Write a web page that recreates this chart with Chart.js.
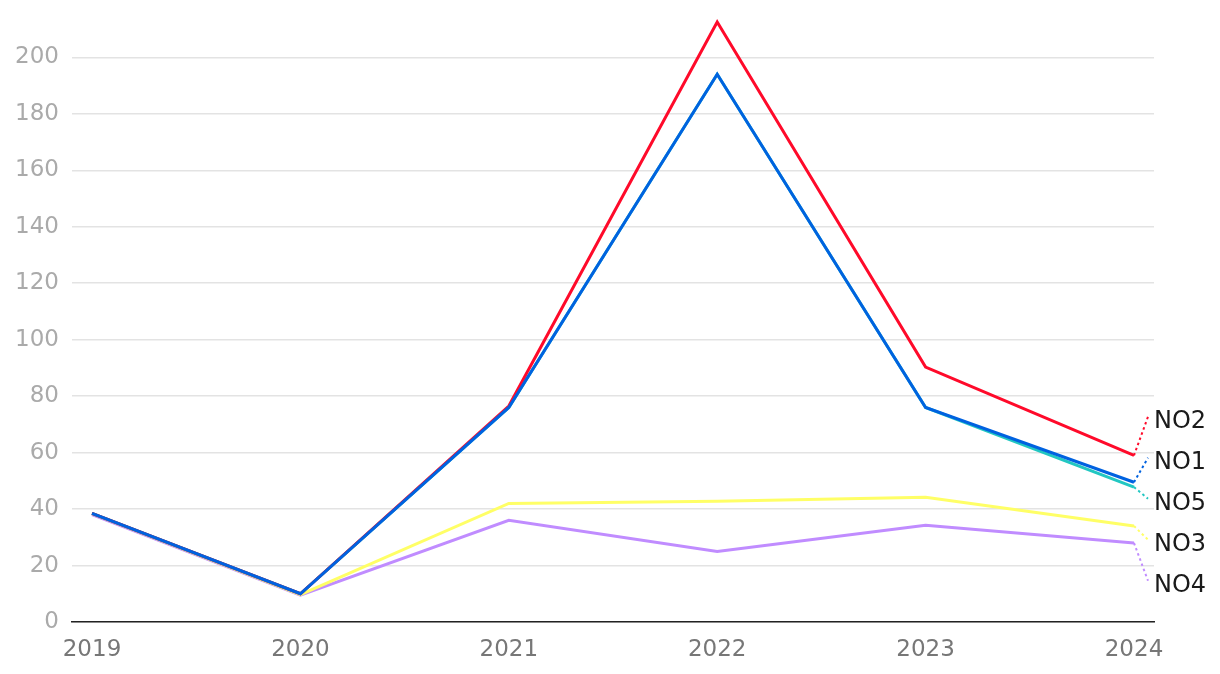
<!DOCTYPE html>
<html>
<head>
<meta charset="utf-8">
<style>
  html, body { margin: 0; padding: 0; background: #fff; }
  #wrap { width: 1220px; height: 674px; }
</style>
<script src="https://cdn.jsdelivr.net/npm/chart.js@4"></script>
</head>
<body>
<div id="wrap"><canvas id="chart" width="1220" height="674"></canvas></div>
<script>
// data
const years = [2019, 2020, 2021, 2022, 2023, 2024];
const no1 = [38.5, 10, 76, 194, 76, 49.5];
const no2 = [38.5, 10, 76.5, 212.5, 90.3, 59];
const no5 = [38.5, 10, 76, 194, 76, 47.8];
const no3 = [38.4, 9.7, 42, 42.8, 44.2, 34];
const no4 = [38, 9.5, 36, 25, 34.3, 28];
const yTicks = [0, 20, 40, 60, 80, 100, 120, 140, 160, 180, 200];

const FONT = '"DejaVu Sans", sans-serif';

const pts = (vals) => vals.map((v, i) => ({ x: years[i], y: v }));

const mkSet = (label, vals, color) => ({
  label: label,
  data: pts(vals),
  borderColor: color,
  backgroundColor: color,
  borderWidth: 3,
  pointRadius: 0,
  tension: 0,
  fill: false
});

// labels at the end of the lines, with dotted leaders
const endLabels = {
  id: 'endLabels',
  afterDatasetsDraw(chart) {
    const ctx = chart.ctx;
    const items = chart.data.datasets.map((ds, i) => {
      const meta = chart.getDatasetMeta(i);
      const p = meta.data[meta.data.length - 1];
      return { label: ds.label, color: ds.borderColor, x: p.x, y: p.y };
    }).sort((a, b) => a.y - b.y);
    const gap = 41;
    const mean = items.reduce((s, it) => s + it.y, 0) / items.length;
    const start = mean - gap * (items.length - 1) / 2 + 5;
    ctx.save();
    items.forEach((it, k) => {
      const ly = start + k * gap;
      ctx.beginPath();
      ctx.setLineDash([2.5, 3]);
      ctx.lineWidth = 2;
      ctx.strokeStyle = it.color;
      ctx.moveTo(it.x, it.y);
      ctx.lineTo(it.x + 14, ly - 5);
      ctx.stroke();
      ctx.setLineDash([]);
      ctx.fillStyle = '#1a1a1a';
      ctx.font = '24px ' + FONT;
      ctx.textAlign = 'left';
      ctx.textBaseline = 'middle';
      ctx.fillText(it.label, it.x + 20, ly);
    });
    ctx.restore();
  }
};

const pad = 0.096;

new Chart(document.getElementById('chart'), {
  type: 'line',
  data: {
    datasets: [
      mkSet('NO1', no1, '#0062e0'),
      mkSet('NO2', no2, '#ff0a2a'),
      mkSet('NO5', no5, '#22c7c2'),
      mkSet('NO3', no3, '#ffff66'),
      mkSet('NO4', no4, '#c08cff')
    ]
  },
  options: {
    responsive: false,
    animation: false,
    layout: { padding: { top: 15, right: 66, left: 0, bottom: 0 } },
    plugins: {
      legend: { display: false },
      tooltip: { enabled: false }
    },
    scales: {
      x: {
        type: 'linear',
        min: years[0] - pad,
        max: years[years.length - 1] + pad,
        afterBuildTicks: (s) => { s.ticks = years.map(v => ({ value: v })); },
        afterFit: (s) => { s.height = 52; s.paddingLeft = 0; s.paddingRight = 0; },
        grid: { display: false, drawTicks: false },
        border: { display: true, color: '#222', width: 1.5 },
        ticks: {
          padding: 14,
          color: '#777',
          font: { family: FONT, size: 23 },
          callback: (v) => String(v),
          maxRotation: 0
        }
      },
      y: {
        min: 0,
        max: 215,
        afterBuildTicks: (s) => { s.ticks = yTicks.map(v => ({ value: v })); },
        afterFit: (s) => { s.width = 72; s.paddingTop = 0; s.paddingBottom = 0; },
        grid: { color: '#e3e3e3', lineWidth: 1.5, drawTicks: false },
        border: { display: false },
        ticks: {
          padding: 13,
          color: '#aaa',
          font: { family: FONT, size: 23 }
        }
      }
    }
  },
  plugins: [endLabels]
});
</script>
</body>
</html>
